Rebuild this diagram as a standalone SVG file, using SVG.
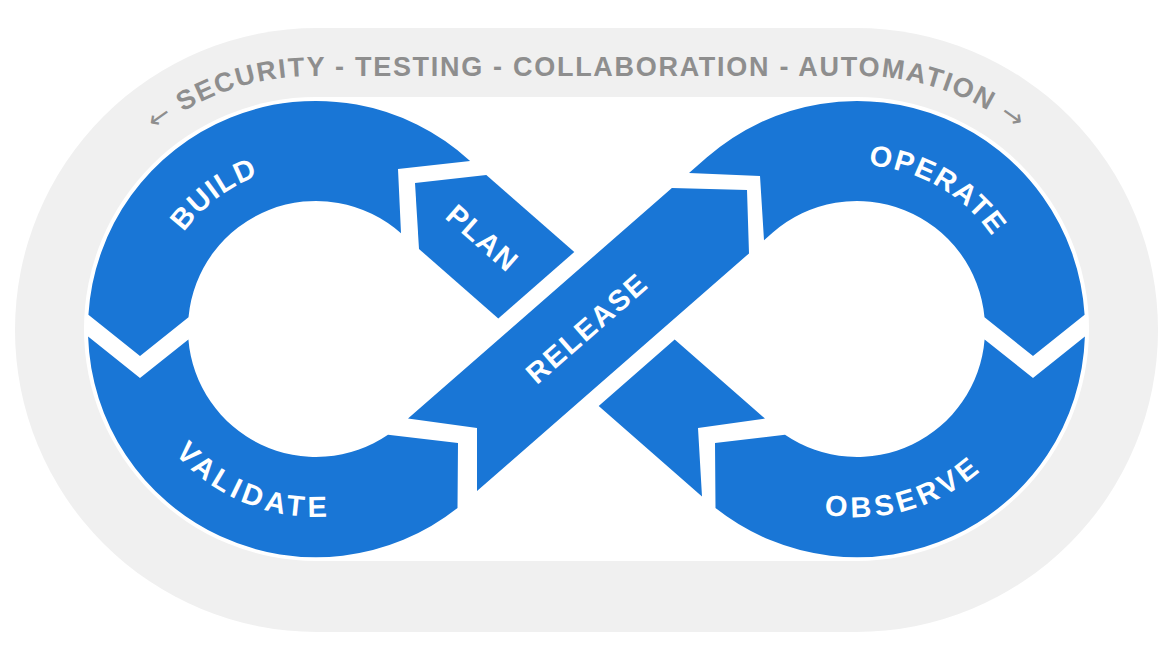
<svg xmlns="http://www.w3.org/2000/svg" width="1173" height="663" viewBox="0 0 1173 663">
  <style>
    .seg { fill: #1976d6; }
    .lbl { fill: #ffffff; font-family: "Liberation Sans", Arial, sans-serif; font-weight: bold; font-size: 29px; }
    .caption { fill: #8e8e8e; font-family: "Liberation Sans", Arial, sans-serif; font-weight: bold; font-size: 27px; letter-spacing: 1.7px; }
    .arrow { font-family: "DejaVu Sans", sans-serif; font-weight: normal; }
  </style>
  <defs>
    <path id="captionPath" d="M 98 195 A 253 253 0 0 1 316 76 L 857 76 A 253 253 0 0 1 1075 195"/>
    <path id="buildPath" d="M 169.9 403.5 A 164 164 0 0 1 427.8 209.1"/>
    <path id="operatePath" d="M 731.4 223.6 A 164 164 0 0 1 1011.1 385.1"/>
    <path id="validatePath" d="M 132.1 289.9 A 188 188 0 0 0 475.4 428.6"/>
    <path id="observePath" d="M 688 411.4 A 188 188 0 0 0 1044 309.3"/>
  </defs>

  <rect x="0" y="0" width="1173" height="663" fill="#ffffff"/>
  <g id="background">
    <rect x="15" y="28" width="1143" height="604" rx="302" ry="302" fill="#f0f0f0"/>
    <rect x="316" y="97" width="541" height="464" fill="#ffffff"/>
    <circle cx="316" cy="329" r="232" fill="#ffffff"/>
    <circle cx="857" cy="329" r="232" fill="#ffffff"/>
  </g>

  <g id="caption">
    <text class="caption"><textPath href="#captionPath" startOffset="50%" text-anchor="middle"><tspan class="arrow">←</tspan><tspan dx="9">SECURITY - TESTING - COLLABORATION - AUTOMATION</tspan><tspan class="arrow" dx="10">→</tspan></textPath></text>
  </g>

  <g id="connectors">
    <path class="seg" d="M 674.7 339.6 L 765 418.6 L 698 428 L 702 496.4 L 598.7 406 Z"/>
  </g>

  <g id="node-build">
    <path class="seg" d="M 398 169 L 470.1 160.9 A 228 228 0 0 0 88.4 314.8 L 140 356 L 188.5 317.3 A 128 128 0 0 1 401 233.3 Z"/>
    <text class="lbl" letter-spacing="1.5"><textPath href="#buildPath" startOffset="50%" text-anchor="middle">BUILD</textPath></text>
  </g>

  <g id="node-validate">
    <path class="seg" d="M 88.1 336.6 L 140 378 L 188.4 339.4 A 128 128 0 0 0 388 434.8 L 458 443 L 457.5 508 A 228 228 0 0 1 88.1 336.6 Z"/>
    <text class="lbl" letter-spacing="4.3"><textPath href="#validatePath" startOffset="50%" text-anchor="middle">VALIDATE</textPath></text>
  </g>

  <g id="node-plan">
    <path class="seg" d="M 415 183 L 486.3 175 L 574.3 252 L 498.3 318.4 L 419 249 Z"/>
    <text class="lbl" letter-spacing="1.5" transform="translate(482.6 238.2) rotate(41.15)" x="0" y="10" text-anchor="middle">PLAN</text>
  </g>

  <g id="node-release">
    <path class="seg" d="M 408 418.6 L 671.9 188 L 747 190 L 749 253.4 L 477 491.1 L 477 428 Z"/>
    <text class="lbl" letter-spacing="2" transform="translate(587 328) rotate(-41.15)" x="0" y="10" text-anchor="middle">RELEASE</text>
  </g>

  <g id="node-operate">
    <path class="seg" d="M 689 173 L 707 157.3 A 228 228 0 0 1 1084.6 314.8 L 1033 356 L 984.5 317.3 A 128 128 0 0 0 772.8 232.6 L 764 240.3 L 760 176 Z"/>
    <text class="lbl" letter-spacing="1.5"><textPath href="#operatePath" startOffset="50%" text-anchor="middle">OPERATE</textPath></text>
  </g>

  <g id="node-observe">
    <path class="seg" d="M 1084.9 336.6 L 1033 378 L 984.6 339.4 A 128 128 0 0 1 785 434.8 L 715 443 L 715.5 508 A 228 228 0 0 0 1084.9 336.6 Z"/>
    <text class="lbl" letter-spacing="4.3"><textPath href="#observePath" startOffset="50%" text-anchor="middle">OBSERVE</textPath></text>
  </g>
</svg>
